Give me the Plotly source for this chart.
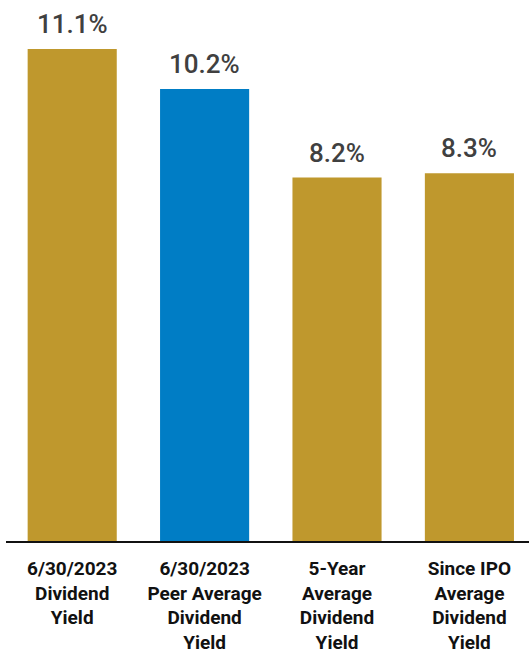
import plotly.graph_objects as go

# Dividend yield comparison
categories = [
    "6/30/2023<br>Dividend<br>Yield",
    "6/30/2023<br>Peer Average<br>Dividend<br>Yield",
    "5-Year<br>Average<br>Dividend<br>Yield",
    "Since IPO<br>Average<br>Dividend<br>Yield",
]
values = [11.1, 10.2, 8.2, 8.3]
value_labels = ["11.1%", "10.2%", "8.2%", "8.3%"]
bar_colors = ["#BF982D", "#007DC5", "#BF982D", "#BF982D"]

fig = go.Figure(
    go.Bar(
        x=categories,
        y=values,
        marker=dict(color=bar_colors, line=dict(width=0)),
        cliponaxis=False,
        hoverinfo="skip",
    )
)

# value labels above each bar
for cat, val, lab in zip(categories, values, value_labels):
    fig.add_annotation(
        x=cat,
        y=val,
        text=lab,
        showarrow=False,
        yanchor="bottom",
        yshift=8,
        font=dict(family="Roboto", size=26, color="#404040", weight=500),
    )

fig.update_layout(
    width=529,
    height=654,
    margin=dict(l=6, r=0, t=0, b=113),
    paper_bgcolor="white",
    plot_bgcolor="white",
    bargap=0.327,
    showlegend=False,
)

fig.update_xaxes(
    range=[-0.5, 3.45],
    showline=True,
    linecolor="#111111",
    linewidth=2,
    ticks="",
    showgrid=False,
    tickfont=dict(family="Roboto", size=19, color="#111111", weight="bold"),
    ticklabelstandoff=9,
    automargin=False,
    fixedrange=True,
)
fig.update_yaxes(
    range=[0, 541 / 44.32],
    visible=False,
    showgrid=False,
    zeroline=False,
    automargin=False,
    fixedrange=True,
)

fig.write_html("out.html")
